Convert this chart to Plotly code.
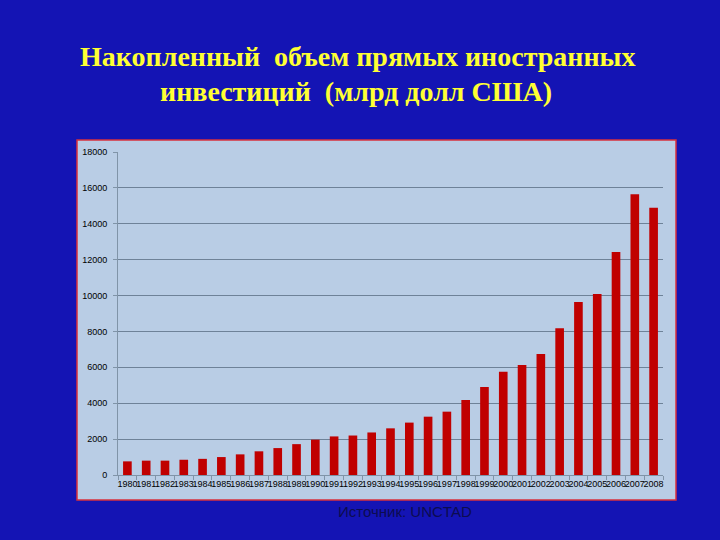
import plotly.graph_objects as go

years = [str(y) for y in range(1980, 2009)]
fdi_stock = [760, 800, 800, 850, 900, 1000, 1150, 1320, 1500, 1720,
             1970, 2150, 2200, 2370, 2600, 2920, 3250, 3530, 4180, 4900,
             5760, 6130, 6740, 8180, 9640, 10080, 12430, 15650, 14900]
y_ticks = list(range(0, 18001, 2000))

title_line1 = "Накопленный  объем прямых иностранных"
title_line2 = "инвестиций  (млрд долл США)"
source_text = "Источник: UNCTAD"

fig = go.Figure()
fig.add_trace(go.Bar(x=years, y=fdi_stock, marker=dict(color="#c00000", line=dict(width=0)),
                     width=0.46))

W, H = 720, 540
ml, mr, mt, mb = 118, 57, 152, 65
pw = W - ml - mr
ph = H - mt - mb

def px_x(x):
    return (x - ml) / pw

def px_y(y):
    return (H - mb - y) / ph

fig.update_layout(
    width=W, height=H,
    margin=dict(l=ml, r=mr, t=mt, b=mb),
    paper_bgcolor="#1414b4",
    plot_bgcolor="rgba(0,0,0,0)",
    showlegend=False,
    bargap=0.54,
    shapes=[dict(type="rect", xref="paper", yref="paper",
                 x0=px_x(77), x1=px_x(676), y0=px_y(500), y1=px_y(140),
                 fillcolor="#b9cde5", line=dict(color="#d8303c", width=1.5),
                 layer="below")],
    annotations=[
        dict(text=title_line1, xref="paper", yref="paper", x=px_x(357), y=px_y(57),
             showarrow=False, xanchor="center", yanchor="middle",
             font=dict(family="Liberation Serif", size=28, color="#ffff33", weight="bold")),
        dict(text=title_line2, xref="paper", yref="paper", x=px_x(356), y=px_y(91),
             showarrow=False, xanchor="center", yanchor="middle",
             font=dict(family="Liberation Serif", size=28, color="#ffff33", weight="bold")),
        dict(text=source_text, xref="paper", yref="paper", x=px_x(405), y=px_y(511),
             showarrow=False, xanchor="center", yanchor="middle",
             font=dict(family="Liberation Sans", size=15, color="#0c0c50")),
    ],
)

fig.update_xaxes(
    type="category", tickangle=0,
    tickfont=dict(family="Liberation Sans", size=9, color="black"),
    showgrid=False, showline=True, linecolor="#8094a8", linewidth=1,
    ticks="outside", ticklen=4, tickcolor="#8094a8", tickson="boundaries",
)
fig.update_yaxes(
    range=[0, 18000], tickvals=y_ticks, tickformat="d",
    tickfont=dict(family="Liberation Sans", size=9, color="black"),
    showgrid=True, gridcolor="#6e8298", gridwidth=1,
    showline=True, linecolor="#8094a8", linewidth=1,
    ticks="outside", ticklen=4, tickcolor="#8094a8",
    zeroline=False, ticklabelstandoff=4,
)

fig.write_html("out.html", config={"displayModeBar": False},
               post_script="document.body.style.margin='0';document.body.style.background='#1414b4';")
